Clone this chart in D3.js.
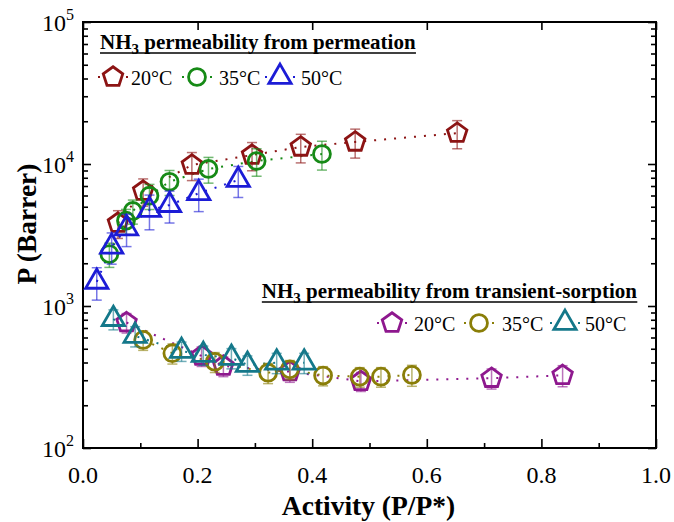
<!DOCTYPE html>
<html>
<head>
<meta charset="utf-8">
<script src="https://cdn.jsdelivr.net/npm/d3@7"></script>
<style>
  body { margin: 0; background: #fff; }
  svg { display: block; }
  text { font-family: "Liberation Serif", "Times New Roman", serif; fill: #000; }
</style>
</head>
<body>
<svg id="chart" width="674" height="522"></svg>
<script>
// permeation (from permeation experiments)
const perm20Act = [0.061, 0.105, 0.19, 0.295, 0.38, 0.475, 0.653];
const perm20P   = [3840, 6450, 9840, 11560, 13180, 14300, 16500];
const perm20Err = [850, 1400, 2200, 2600, 3000, 3300, 3700];

const perm35Act = [0.046, 0.075, 0.087, 0.116, 0.151, 0.219, 0.303, 0.417];
const perm35P   = [2320, 3990, 4670, 5980, 7500, 9230, 10500, 11760];
const perm35Err = [450, 800, 900, 1200, 1500, 1900, 2300, 2700];

const perm50Act = [0.024, 0.05, 0.076, 0.116, 0.151, 0.202, 0.271];
const perm50P   = [1480, 2620, 3520, 4740, 5140, 6220, 7710];
const perm50Err = [380, 650, 900, 1300, 1300, 1600, 1900];

// permeability from transient sorption
const sorp20Act = [0.076, 0.207, 0.245, 0.361, 0.485, 0.713, 0.837];
const sorp20P   = [765, 445, 378, 345, 295, 310, 325];
const sorp20Err = [120, 70, 60, 55, 45, 50, 55];

const sorp35Act = [0.105, 0.156, 0.23, 0.323, 0.361, 0.419, 0.483, 0.52, 0.574];
const sorp35P   = [577, 465, 405, 339, 358, 324, 318, 318, 327];
const sorp35Err = [90, 75, 65, 55, 55, 50, 50, 50, 55];

const sorp50Act = [0.053, 0.091, 0.172, 0.21, 0.259, 0.287, 0.338, 0.386];
const sorp50P   = [809, 615, 482, 452, 431, 385, 399, 399];
const sorp50Err = [130, 100, 75, 70, 70, 60, 65, 65];

const xMajorTicks = [0, 0.2, 0.4, 0.6, 0.8, 1.0];
const xMinorTicks = [0.1, 0.3, 0.5, 0.7, 0.9];
const yDecades = [100, 1000, 10000, 100000];
const tempLabels = ["20°C", "35°C", "50°C"];

const margin = { top: 22, right: 18, bottom: 74, left: 83 };
const W = 674, H = 522;
const width = W - margin.left - margin.right;
const height = H - margin.top - margin.bottom;

const svg = d3.select("#chart");
const g = svg.append("g").attr("transform", `translate(${margin.left},${margin.top})`);

const x = d3.scaleLinear().domain([0, 1]).range([0, width]);
const y = d3.scaleLog().domain([100, 100000]).range([height, 0]);

// pentagon symbol, size = area
const symbolPentagon = {
  draw(context, size) {
    const r = Math.sqrt(size / 2.3776);
    for (let i = 0; i < 5; i++) {
      const a = -Math.PI / 2 + i * 2 * Math.PI / 5;
      const px = r * Math.cos(a), py = r * Math.sin(a);
      if (i === 0) context.moveTo(px, py); else context.lineTo(px, py);
    }
    context.closePath();
  }
};
const shapes = {
  pent: d3.symbol().type(symbolPentagon).size(250)(),
  circ: d3.symbol().type(d3.symbolCircle).size(225)(),
  tri: d3.symbol().type(d3.symbolTriangle).size(215)()
};

const zip = (xs, ys, es) => xs.map((v, i) => ({ a: v, p: ys[i], e: es[i] }));

const series = [
  { pts: zip(perm20Act, perm20P, perm20Err), color: "#8c1414", shape: "pent" },
  { pts: zip(perm35Act, perm35P, perm35Err), color: "#168a16", shape: "circ" },
  { pts: zip(perm50Act, perm50P, perm50Err), color: "#1c1cd6", shape: "tri" },
  { pts: zip(sorp20Act, sorp20P, sorp20Err), color: "#8e188e", shape: "pent" },
  { pts: zip(sorp35Act, sorp35P, sorp35Err), color: "#8a7e08", shape: "circ" },
  { pts: zip(sorp50Act, sorp50P, sorp50Err), color: "#14788a", shape: "tri" }
];

// axes (ticks point inward)
g.append("g").attr("transform", `translate(0,${height})`)
  .call(d3.axisBottom(x).tickValues(xMajorTicks).tickSize(-9).tickFormat(""));
g.append("g").attr("transform", `translate(0,${height})`)
  .call(d3.axisBottom(x).tickValues(xMinorTicks).tickSize(-5).tickFormat(""));
g.append("g")
  .call(d3.axisTop(x).tickValues(xMajorTicks).tickSize(-8).tickFormat(""));

const yMinor = [];
yDecades.slice(0, -1).forEach(d => { for (let k = 2; k <= 9; k++) yMinor.push(d * k); });

g.append("g").call(d3.axisLeft(y).tickValues(yDecades).tickSize(-8).tickFormat(""));
g.append("g").call(d3.axisLeft(y).tickValues(yMinor).tickSize(-5).tickFormat(""));
g.append("g").attr("transform", `translate(${width},0)`)
  .call(d3.axisRight(y).tickValues(yDecades).tickSize(-8).tickFormat(""));
g.append("g").attr("transform", `translate(${width},0)`)
  .call(d3.axisRight(y).tickValues(yMinor).tickSize(-5).tickFormat(""));

g.selectAll(".domain").remove();
g.selectAll(".tick line").attr("stroke", "#000").attr("stroke-width", 1.6);

g.append("rect")
  .attr("width", width).attr("height", height)
  .attr("fill", "none").attr("stroke", "#000").attr("stroke-width", 2);

// tick labels
g.selectAll(".xlab").data(xMajorTicks).join("text")
  .attr("x", d => x(d)).attr("y", height + 35)
  .attr("text-anchor", "middle").attr("font-size", 24)
  .text(d => d.toFixed(1));

const yl = g.selectAll(".ylab").data(yDecades).join("text")
  .attr("x", -9).attr("y", d => y(d) + 9)
  .attr("text-anchor", "end").attr("font-size", 24);
yl.append("tspan").text("10");
yl.append("tspan").attr("dy", -11).attr("font-size", 16).text(d => Math.round(Math.log10(d)));

// axis titles
svg.append("text")
  .attr("x", margin.left + width / 2 - 1).attr("y", 515)
  .attr("text-anchor", "middle").attr("font-size", 27.5).attr("font-weight", "bold")
  .text("Activity (P/P*)");
svg.append("text")
  .attr("transform", `translate(36,${margin.top + 202}) rotate(-90)`)
  .attr("text-anchor", "middle").attr("font-size", 27.5).attr("font-weight", "bold")
  .text("P (Barrer)");

// dotted connecting lines
const line = d3.line().x(d => x(d.a)).y(d => y(d.p));
series.forEach(s => {
  g.append("path").datum(s.pts)
    .attr("d", line)
    .attr("fill", "none").attr("stroke", s.color)
    .attr("stroke-width", 2).attr("stroke-dasharray", "2,8");
});

// error bars + markers
series.forEach(s => {
  const eb = g.append("g").attr("stroke", s.color).attr("stroke-opacity", 0.6).attr("stroke-width", 1.5);
  s.pts.forEach(d => {
    const cx = x(d.a), y0 = y(d.p + d.e), y1 = y(d.p - d.e);
    eb.append("line").attr("x1", cx).attr("x2", cx).attr("y1", y0).attr("y2", y1);
    eb.append("line").attr("x1", cx - 5).attr("x2", cx + 5).attr("y1", y0).attr("y2", y0);
    eb.append("line").attr("x1", cx - 5).attr("x2", cx + 5).attr("y1", y1).attr("y2", y1);
  });
  g.append("g").selectAll("path").data(s.pts).join("path")
    .attr("d", shapes[s.shape])
    .attr("transform", d => `translate(${x(d.a)},${y(d.p)})`)
    .attr("fill", "none").attr("stroke", s.color).attr("stroke-width", 2.8);
});

// legends
function legend(title, titleX, titleY, anchor, rowY, items) {
  const t = svg.append("text")
    .attr("x", titleX).attr("y", titleY)
    .attr("text-anchor", anchor).attr("font-size", 21).attr("font-weight", "bold");
  t.append("tspan").text("NH");
  t.append("tspan").attr("dy", 5).attr("font-size", 15).text("3");
  t.append("tspan").attr("dy", -5).text(" " + title);
  const bb = t.node().getBBox();
  svg.append("line")
    .attr("x1", bb.x).attr("x2", bb.x + bb.width)
    .attr("y1", titleY + 4).attr("y2", titleY + 4)
    .attr("stroke", "#000").attr("stroke-width", 1.6);

  items.forEach(it => {
    svg.append("line")
      .attr("x1", it.mx - 15).attr("x2", it.mx + 15)
      .attr("y1", rowY).attr("y2", rowY)
      .attr("stroke", it.color).attr("stroke-width", 2).attr("stroke-dasharray", "2,26");
    svg.append("path")
      .attr("d", shapes[it.shape])
      .attr("transform", `translate(${it.mx},${rowY})`)
      .attr("fill", "none").attr("stroke", it.color).attr("stroke-width", 2.8);
    svg.append("text")
      .attr("x", it.tx).attr("y", rowY + 8)
      .attr("font-size", 20).text(it.label);
  });
}

legend("permeability from permeation", 100, 49, "start", 77, [
  { mx: 113, tx: 131, color: series[0].color, shape: "pent", label: tempLabels[0] },
  { mx: 197, tx: 219, color: series[1].color, shape: "circ", label: tempLabels[1] },
  { mx: 280, tx: 301, color: series[2].color, shape: "tri", label: tempLabels[2] }
]);
legend("permeability from transient-sorption", 637, 298, "end", 323, [
  { mx: 392, tx: 414, color: series[3].color, shape: "pent", label: tempLabels[0] },
  { mx: 479, tx: 502, color: series[4].color, shape: "circ", label: tempLabels[1] },
  { mx: 565, tx: 585, color: series[5].color, shape: "tri", label: tempLabels[2] }
]);
</script>
</body>
</html>
